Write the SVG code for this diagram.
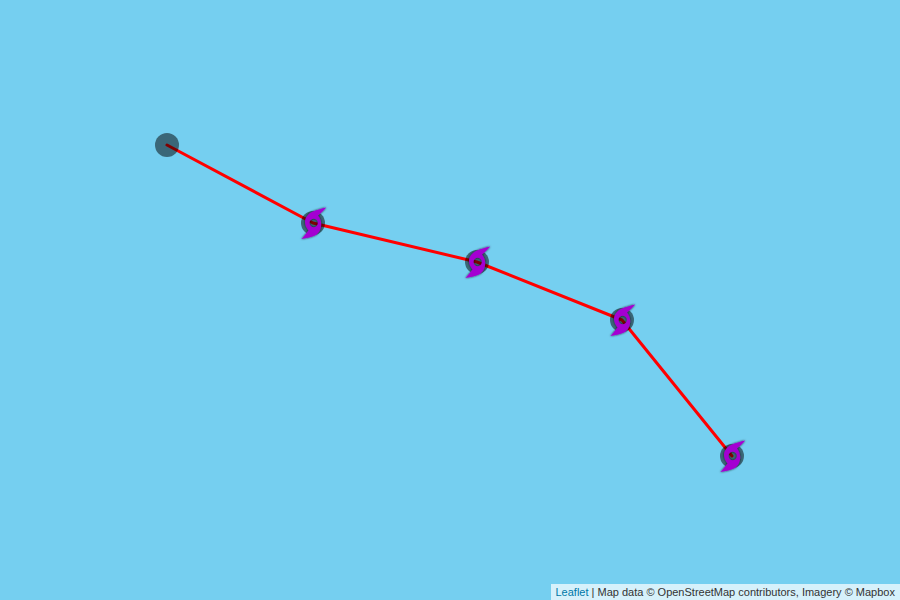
<svg xmlns="http://www.w3.org/2000/svg" width="900" height="600" viewBox="0 0 900 600">
<style>
.track{fill:none;stroke:#ff0000;stroke-width:3;stroke-linejoin:round;stroke-linecap:round}
.halo{fill:#000;fill-opacity:.5}
.storm{fill:#a400d2;fill-rule:evenodd}
.attr{font:11px "Liberation Sans",Arial,sans-serif;fill:#333}
</style>
<defs>
<filter id="soft" x="-30%" y="-30%" width="160%" height="160%"><feGaussianBlur stdDeviation="0.6"/></filter>
<filter id="shade" x="-30%" y="-30%" width="160%" height="160%"><feDropShadow dx="0" dy="0" stdDeviation="1" flood-color="#000" flood-opacity=".8"/></filter>
<g id="hurricane">
<circle class="halo" r="12" filter="url(#soft)"/>
<path class="storm" filter="url(#shade)" d="M13.3,-15.5 C9,-14.5 3,-13 -1,-11 C-5,-9 -8,-5 -8,-1 C-8,2 -6.5,5 -4.5,7.5 C-6.5,10 -9,13.5 -11.7,16 C-6,15 -1,14 2,12.5 C6,10.5 8.2,6 8.2,1 C8.2,-2 7,-5 5,-7.5 C7.5,-9.5 11,-13 13.3,-15.5 Z M0.7,-4.2 A4.2,4.2 0 1 0 0.7,4.2 A4.2,4.2 0 1 0 0.7,-4.2 Z"/>
</g>
</defs>
<rect width="900" height="600" fill="#75cff0"/>
<g id="connectors">
<polyline class="track" points="167,145 313,223 477,262 622,320 732,456"/>
</g>
<g id="start"><circle class="halo" cx="167" cy="145" r="12"/></g>
<g id="storm-1"><use href="#hurricane" x="313" y="223"/></g>
<g id="storm-2"><use href="#hurricane" x="477" y="262"/></g>
<g id="storm-3"><use href="#hurricane" x="622" y="320"/></g>
<g id="storm-4"><use href="#hurricane" x="732" y="456"/></g>
<g id="attribution">
<rect x="551" y="584" width="349" height="16" fill="#fff" fill-opacity=".7"/>
<text class="attr" x="555.5" y="596"><tspan fill="#0078a8">Leaflet</tspan> | Map data © OpenStreetMap contributors, Imagery © Mapbox</text>
</g>
</svg>
